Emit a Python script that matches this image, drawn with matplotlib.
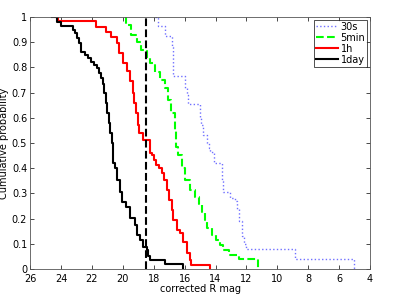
import numpy as np
import matplotlib
matplotlib.use('Agg')
import matplotlib.pyplot as plt

# step vertices: at mag[i] the curve drops to prob[i]
mag_30s = [17.9, 17.75, 17.25, 16.8, 16.72, 16.0, 15.85, 15.78, 15.0, 14.95, 14.78, 14.55,
           14.45, 14.35, 14.13, 13.55, 13.5, 13.06, 12.75, 12.6, 12.45, 12.3, 12.15, 12.0, 8.85, 5.07]
prob_30s = [1.0, 0.962, 0.925, 0.88, 0.767, 0.72, 0.69, 0.653, 0.60, 0.571, 0.53, 0.50,
            0.48, 0.465, 0.422, 0.35, 0.307, 0.28, 0.271, 0.24, 0.19, 0.13, 0.10, 0.078, 0.04, 0.0]

mag_5min = [19.85, 19.8, 19.45, 19.1, 18.8, 18.45, 18.25, 17.9, 17.6, 17.3, 17.05, 16.85,
            16.65, 16.55, 16.4, 16.2, 16.0, 15.65, 15.35, 15.1, 14.9, 14.7, 14.55, 14.25,
            13.95, 13.7, 13.5, 13.1, 12.5, 11.25]
prob_5min = [1.0, 0.968, 0.929, 0.902, 0.869, 0.842, 0.816, 0.783, 0.75, 0.717, 0.671, 0.618,
             0.552, 0.485, 0.452, 0.40, 0.353, 0.313, 0.287, 0.26, 0.227, 0.194, 0.161, 0.135,
             0.115, 0.095, 0.075, 0.056, 0.04, 0.0]

mag_1h = [24.3, 24.2, 21.75, 21.1, 20.75, 20.4, 20.25, 19.98, 19.7, 19.55, 19.35, 19.25,
          19.12, 19.0, 18.92, 18.67, 18.23, 18.12, 17.97, 17.84, 17.63, 17.48, 17.33, 17.15,
          16.98, 16.83, 16.72, 16.47, 16.29, 16.12, 15.86, 15.64, 15.6, 14.35]
prob_1h = [1.0, 0.985, 0.96, 0.94, 0.92, 0.896, 0.856, 0.817, 0.784, 0.744, 0.70, 0.66,
           0.62, 0.571, 0.538, 0.512, 0.46, 0.452, 0.433, 0.413, 0.40, 0.38, 0.353, 0.313,
           0.274, 0.234, 0.194, 0.155, 0.142, 0.108, 0.062, 0.036, 0.016, 0.0]

mag_1day = [24.6, 24.27, 24.0, 23.24, 23.1, 22.95, 22.85, 22.72, 22.45, 22.27, 22.07, 21.85,
            21.68, 21.53, 21.42, 21.3, 21.2, 21.1, 21.0, 20.9, 20.8, 20.7, 20.6, 20.5, 20.35,
            20.17, 20.03, 19.81, 19.53, 19.2, 19.05, 18.88, 18.71, 18.45, 18.34, 18.23, 17.26, 16.08]
prob_1day = [1.0, 0.981, 0.964, 0.948, 0.935, 0.915, 0.896, 0.862, 0.85, 0.836, 0.823, 0.81,
             0.797, 0.779, 0.757, 0.735, 0.70, 0.66, 0.62, 0.58, 0.54, 0.50, 0.42, 0.40, 0.353,
             0.307, 0.267, 0.247, 0.201, 0.175, 0.135, 0.115, 0.089, 0.075, 0.052, 0.036, 0.019, 0.0]

cut_mag = 18.5

fig = plt.figure(figsize=(3.95, 3.02), dpi=100)
ax = fig.add_axes([0.076, 0.109, 0.861, 0.835])

ax.step(mag_30s, prob_30s, where='post', color='#7070ff', ls=':', lw=1.0, label='30s')
ax.step(mag_5min, prob_5min, where='post', color='#00ff00', ls='--', lw=1.5, label='5min')
ax.step(mag_1h, prob_1h, where='post', color='#ff0000', lw=1.5, label='1h')
ax.step(mag_1day, prob_1day, where='post', color='black', lw=1.5, label='1day')
ax.axvline(cut_mag, color='black', ls='--', lw=1.5)

ax.set_xlim(26, 4)
ax.set_ylim(0, 1)
ax.set_xticks(np.arange(26, 3, -2))
ax.set_yticks(np.arange(0, 1.01, 0.1))
ax.set_yticklabels(['0'] + ['%.1f' % v for v in np.arange(0.1, 0.95, 0.1)] + ['1'])
ax.tick_params(direction='in', top=True, right=True, labelsize=7, length=3, width=0.5)
ax.tick_params(axis='x', pad=3.5)
ax.tick_params(axis='y', pad=2)
for s in ax.spines.values():
    s.set_linewidth(0.6)
    s.set_color('#555555')

ax.set_xlabel('corrected R mag', fontsize=7, labelpad=0)
ax.set_ylabel('Cumulative probability', fontsize=7, labelpad=2)

leg = ax.legend(loc='upper right', fontsize=7, fancybox=False, borderpad=0.2,
                handlelength=2.2, handletextpad=0.3, labelspacing=0.1, borderaxespad=0.3)
leg.get_frame().set_edgecolor('black')
leg.get_frame().set_linewidth(0.6)

fig.savefig('out.png', dpi=100)
